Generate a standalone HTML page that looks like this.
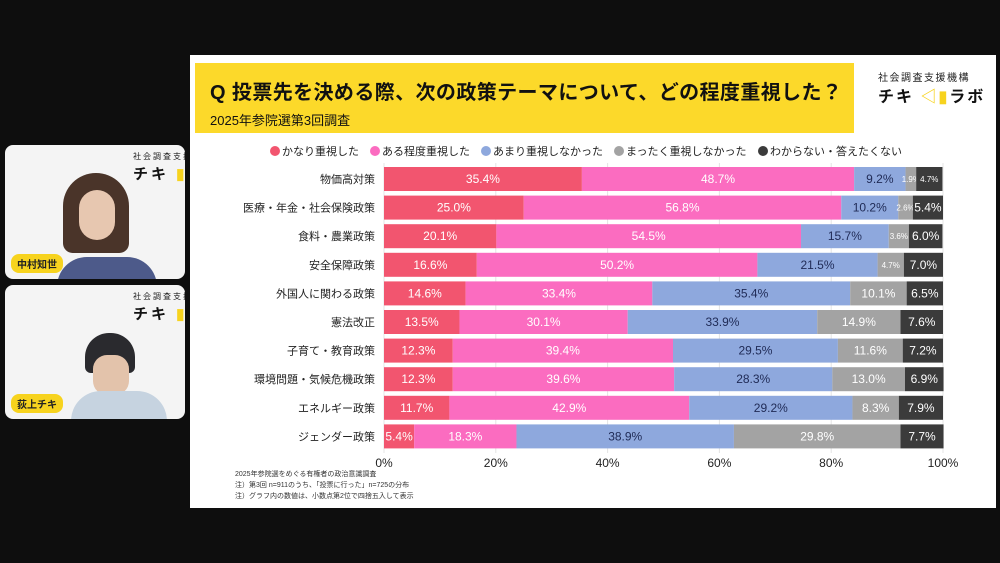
<!DOCTYPE html>
<html><head><meta charset="utf-8">
<style>
body{margin:0;width:1000px;height:563px;background:#0e0e0e;overflow:hidden;font-family:"Liberation Sans","Noto Sans CJK JP",sans-serif;position:relative}
.cam{position:absolute;left:5px;width:180px;height:134px;background:#f4f4f4;border-radius:8px;overflow:hidden}
.tag{position:absolute;left:6px;bottom:6px;background:#f7d31e;border-radius:8px;font-size:10px;font-weight:bold;padding:2px 6px;color:#222}
.logo-s{position:absolute;font-size:8px;letter-spacing:2px;color:#222;white-space:nowrap}
.logo-b{position:absolute;font-size:15px;font-weight:bold;letter-spacing:3px;color:#111;white-space:nowrap}
#slide{position:absolute;left:190px;top:55px;width:806px;height:453px;background:#fff}
</style></head><body>
<div class="cam" style="top:145px">
  <div class="logo-s" style="left:128px;top:6px">社会調査支援</div>
  <div class="logo-b" style="left:128px;top:18px">チキ <span style="color:#f7d31e">▮▮</span></div>
  <div style="position:absolute;left:58px;top:28px;width:66px;height:80px;background:#4a3429;border-radius:34px 34px 10px 10px"></div>
  <div style="position:absolute;left:74px;top:45px;width:36px;height:50px;background:#e7c7b0;border-radius:18px"></div>
  <div style="position:absolute;left:52px;top:112px;width:100px;height:30px;background:#4d5a8a;border-radius:30px 30px 0 0"></div>
  <div class="tag">中村知世</div>
</div>
<div class="cam" style="top:285px">
  <div class="logo-s" style="left:128px;top:6px">社会調査支援</div>
  <div class="logo-b" style="left:128px;top:18px">チキ <span style="color:#f7d31e">▮▮</span></div>
  <div style="position:absolute;left:80px;top:48px;width:50px;height:40px;background:#2a2a2e;border-radius:24px 24px 6px 6px"></div>
  <div style="position:absolute;left:88px;top:70px;width:36px;height:40px;background:#e3c3ab;border-radius:14px"></div>
  <div style="position:absolute;left:66px;top:106px;width:96px;height:30px;background:#c6d3e0;border-radius:30px 30px 0 0"></div>
  <div class="tag">荻上チキ</div>
</div>
<div id="slide">
  <div style="position:absolute;left:5px;top:8px;width:659px;height:70px;background:#fcd92a">
    <div style="position:absolute;left:15px;top:13px;font-size:20px;font-weight:bold;color:#111;white-space:nowrap;letter-spacing:0.4px">Q 投票先を決める際、次の政策テーマについて、どの程度重視した？</div>
    <div style="position:absolute;left:15px;top:47px;font-size:13px;color:#111">2025年参院選第3回調査</div>
  </div>
  <div class="logo-s" style="left:688px;top:14px;font-size:10px;letter-spacing:1.5px">社会調査支援機構</div>
  <div class="logo-b" style="left:688px;top:28px;font-size:16px;letter-spacing:2px">チキ <span style="color:#f7d31e">◁▮</span>ラボ</div>
  <svg id="chart" width="806" height="453" style="position:absolute;left:0;top:0"></svg>
  <div style="position:absolute;left:45px;top:414px;font-size:7px;line-height:11px;color:#333">2025年参院選をめぐる有権者の政治意識調査<br>注）第3回 n=911のうち、「投票に行った」n=725の分布<br>注）グラフ内の数値は、小数点第2位で四捨五入して表示</div>
</div>
<script>
const categories=["物価高対策","医療・年金・社会保険政策","食料・農業政策","安全保障政策","外国人に関わる政策","憲法改正","子育て・教育政策","環境問題・気候危機政策","エネルギー政策","ジェンダー政策"];
const seriesNames=["かなり重視した","ある程度重視した","あまり重視しなかった","まったく重視しなかった","わからない・答えたくない"];
const s1=[35.4,25.0,20.1,16.6,14.6,13.5,12.3,12.3,11.7,5.4];
const s2=[48.7,56.8,54.5,50.2,33.4,30.1,39.4,39.6,42.9,18.3];
const s3=[9.2,10.2,15.7,21.5,35.4,33.9,29.5,28.3,29.2,38.9];
const s4=[1.9,2.6,3.6,4.7,10.1,14.9,11.6,13.0,8.3,29.8];
const s5=[4.7,5.4,6.0,7.0,6.5,7.6,7.2,6.9,7.9,7.7];
const ticks=[0,20,40,60,80,100];
const colors=["#f2556f","#fb6cc0","#8ea8dd","#a3a3a3","#3b3b3b"];
const textColors=["#fff","#fff","#1f2a55","#fff","#fff"];
const svg=document.getElementById('chart');const NS="http://www.w3.org/2000/svg";
const X0=194,X1=753;const x=v=>X0+(X1-X0)*v/100;
const yc=i=>124+i*28.6;const BH=24;
function mk(t,a){const e=document.createElementNS(NS,t);for(const k in a)e.setAttribute(k,a[k]);svg.appendChild(e);return e;}
let lx=85;
seriesNames.forEach((n,k)=>{
  const c=mk('circle',{cx:lx,cy:96,r:5,fill:colors[k]});
  
  
  const t=mk('text',{x:lx+7,y:100,'font-size':11,fill:'#222'});t.textContent=n;
  
  
  lx+=n.length*11+23;
});
ticks.forEach(v=>{
  const l=mk('line',{x1:x(v),x2:x(v),y1:108,y2:398,stroke:'#e4e4e4','stroke-width':1});
  
  
  const t=mk('text',{x:x(v),y:412,'font-size':12,fill:'#222','text-anchor':'middle'});t.textContent=v+'%';
  
  
});
const all=[s1,s2,s3,s4,s5];
categories.forEach((c,i)=>{
  const t=mk('text',{x:185,y:yc(i)+4,'font-size':11,fill:'#222','text-anchor':'end'});t.textContent=c;
  
  
  let acc=0;
  all.forEach((s,k)=>{
    const v=s[i];
    const r=mk('rect',{x:x(acc),y:yc(i)-BH/2,width:x(acc+v)-x(acc),height:BH,fill:colors[k]});
    
    
    const small=v<5;
    const lb=mk('text',{x:x(acc+v/2),y:yc(i)+(small?3:4),'font-size':small?8:12,fill:textColors[k],'text-anchor':'middle'});
    lb.textContent=v.toFixed(1)+'%';
    
    
    acc+=v;
  });
});
</script>
</body></html>
